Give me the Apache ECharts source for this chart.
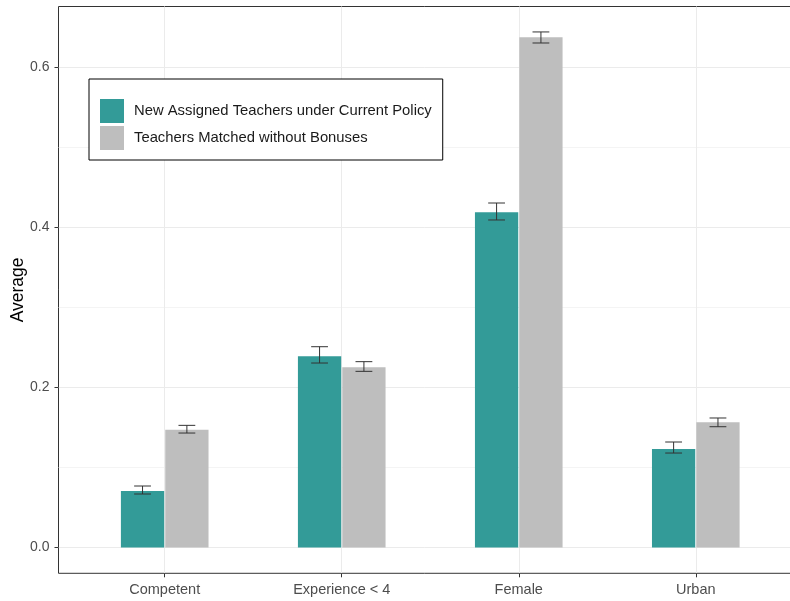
<!DOCTYPE html>
<html>
<head>
<meta charset="utf-8">
<script src="https://cdn.jsdelivr.net/npm/echarts@6/dist/echarts.min.js"></script>
<style>html,body{margin:0;padding:0;background:#fff}#c{width:790px;height:601px}</style>
</head>
<body>
<div id="c"></div>
<script>
const categories = ['Competent', 'Experience < 4', 'Female', 'Urban'];
const seriesNames = ['New Assigned Teachers under Current Policy', 'Teachers Matched without Bonuses'];
const currentPolicy = [0.0706, 0.239, 0.419, 0.1231];
const currentLow = [0.0669, 0.2306, 0.4094, 0.1181];
const currentHigh = [0.0769, 0.251, 0.4306, 0.1319];
const noBonus = [0.1473, 0.2252, 0.6377, 0.1565];
const noBonusLow = [0.1431, 0.2202, 0.6306, 0.151];
const noBonusHigh = [0.1527, 0.2323, 0.6444, 0.1619];
const yTicks = [0, 0.2, 0.4, 0.6];
const yMinorTicks = [0.1, 0.3, 0.5];
const xPositions = [1, 2, 3, 4];

const FONT = '"Liberation Sans", Arial, sans-serif';
const colors = ['#339b98', '#bebebe'];
const BAR_W = 0.2445;
const GAP = 0.003;
const CAP = 0.095;

function barSeries(idx, values, lows, highs) {
  const sign = idx === 0 ? -1 : 1;
  return [{
    name: seriesNames[idx],
    type: 'custom',
    itemStyle: { color: colors[idx] },
    data: values.map((v, i) => [xPositions[i], v]),
    renderItem: function (params, api) {
      const x = api.value(0), y = api.value(1);
      const x0 = idx === 0 ? x - BAR_W - GAP : x + GAP;
      const p0 = api.coord([x0, y]);
      const p1 = api.coord([x0 + BAR_W, 0]);
      return {
        type: 'rect',
        shape: { x: p0[0], y: p0[1], width: p1[0] - p0[0], height: p1[1] - p0[1] },
        style: { fill: colors[idx] }
      };
    },
    z: 2
  }, {
    name: seriesNames[idx],
    type: 'custom',
    data: values.map((v, i) => [xPositions[i], lows[i], highs[i]]),
    renderItem: function (params, api) {
      const xc = api.value(0) + sign * (BAR_W / 2 + GAP);
      const lo = api.coord([xc, api.value(1)]);
      const hi = api.coord([xc, api.value(2)]);
      const half = api.size([CAP, 0])[0] / 2;
      const st = { stroke: '#333333', lineWidth: 1, fill: null };
      return {
        type: 'group',
        children: [
          { type: 'line', shape: { x1: lo[0], y1: lo[1], x2: hi[0], y2: hi[1] }, style: st },
          { type: 'line', shape: { x1: lo[0] - half, y1: lo[1], x2: lo[0] + half, y2: lo[1] }, style: st },
          { type: 'line', shape: { x1: hi[0] - half, y1: hi[1], x2: hi[0] + half, y2: hi[1] }, style: st }
        ]
      };
    },
    z: 3
  }];
}

const chart = echarts.init(document.getElementById('c'), null, { renderer: 'canvas' });
chart.setOption({
  animation: false,
  backgroundColor: '#ffffff',
  textStyle: { fontFamily: FONT },
  grid: {
    left: 58.5, top: 6.5, right: -12, bottom: 27.7,
    containLabel: false,
    outerBoundsMode: 'none',
    show: true, borderColor: '#333333', borderWidth: 1, backgroundColor: '#ffffff'
  },
  legend: {
    orient: 'vertical',
    left: 89, top: 79,
    padding: [20, 11, 10, 11],
    itemWidth: 24, itemHeight: 24, itemGap: 3,
    borderColor: '#000000', borderWidth: 1,
    backgroundColor: '#ffffff',
    selectedMode: false,
    textStyle: { fontSize: 14.8, color: '#1a1a1a', fontFamily: FONT, padding: [0, 0, 0, 5] },
    data: [
      { name: seriesNames[0], icon: 'rect', itemStyle: { color: colors[0] } },
      { name: seriesNames[1], icon: 'rect', itemStyle: { color: colors[1] } }
    ]
  },
  xAxis: {
    type: 'value', min: 0.4, max: 4.6,
    axisLine: { show: false, onZero: false },
    axisTick: { show: true, length: 4, customValues: xPositions, lineStyle: { color: '#333333' } },
    axisLabel: {
      customValues: xPositions, margin: 9, fontSize: 14.5, color: '#4d4d4d', fontFamily: FONT,
      formatter: v => categories[Math.round(v) - 1]
    },
    splitLine: { show: true, lineStyle: { color: '#ebebeb', width: 1 } }
  },
  yAxis: [{
    type: 'value', min: -0.0322, max: 0.6762,
    name: 'Average', nameLocation: 'middle', nameRotate: 90, nameGap: 31,
    nameMoveOverlap: false,
    nameTextStyle: { fontSize: 17.5, color: '#000000', fontFamily: FONT },
    axisLine: { show: false, onZero: false },
    axisTick: { show: true, length: 4, customValues: yTicks, lineStyle: { color: '#333333' } },
    axisLabel: {
      customValues: yTicks, margin: 9, fontSize: 14, color: '#4d4d4d', fontFamily: FONT,
      formatter: v => v.toFixed(1)
    },
    splitLine: { show: true, lineStyle: { color: '#ebebeb', width: 1 } }
  }, {
    type: 'value', min: -0.0322, max: 0.6762, position: 'left',
    axisLine: { show: false, onZero: false },
    axisTick: { show: false, customValues: yMinorTicks },
    axisLabel: { show: false, customValues: yMinorTicks },
    splitLine: { show: true, lineStyle: { color: '#efefef', width: 0.7 } }
  }],
  series: [].concat(
    barSeries(0, currentPolicy, currentLow, currentHigh),
    barSeries(1, noBonus, noBonusLow, noBonusHigh)
  )
});
</script>
</body>
</html>
